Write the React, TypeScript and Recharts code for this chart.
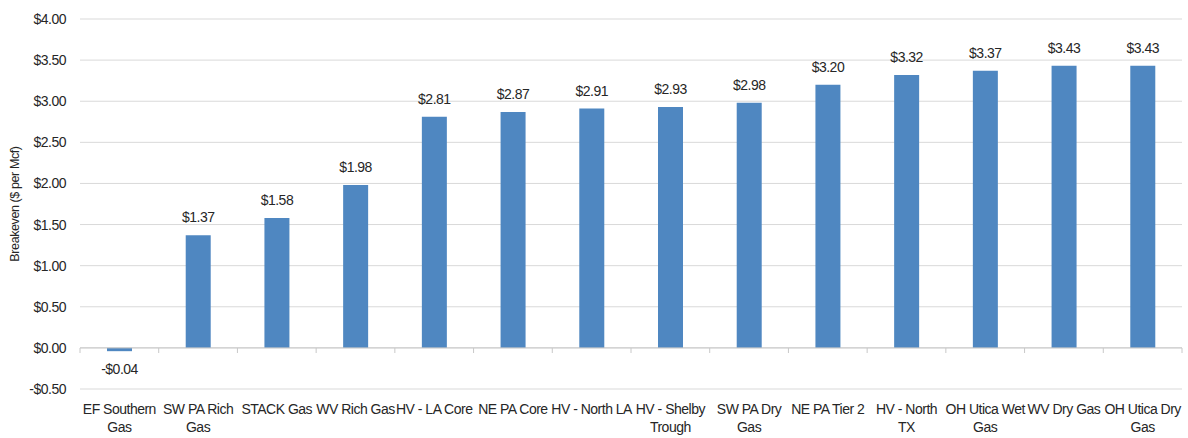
import { BarChart, Bar, CartesianGrid, XAxis, YAxis, LabelList, ReferenceLine } from "recharts";

// categories as they are wrapped in the source picture
const categories = [
  "EF Southern\nGas",
  "SW PA Rich\nGas",
  "STACK Gas",
  "WV Rich Gas",
  "HV - LA Core",
  "NE PA Core",
  "HV - North LA",
  "HV - Shelby\nTrough",
  "SW PA Dry\nGas",
  "NE PA Tier 2",
  "HV - North\nTX",
  "OH Utica Wet\nGas",
  "WV Dry Gas",
  "OH Utica Dry\nGas",
];

const breakeven = [-0.04, 1.37, 1.58, 1.98, 2.81, 2.87, 2.91, 2.93, 2.98, 3.2, 3.32, 3.37, 3.43, 3.43];

const yTicks = [-0.5, 0, 0.5, 1, 1.5, 2, 2.5, 3, 3.5, 4];

const data = categories.map((name, i) => ({ name, value: breakeven[i] }));

const FONT = "'Liberation Sans Narrow', 'Arial Narrow', 'Liberation Sans', Arial, sans-serif";
const TEXT = "#262626";
const BAR = "#4f87c1";
const FS = 14;
const LS = -0.5;

const money = (v: number) => (v < 0 ? "-$" + Math.abs(v).toFixed(2) : "$" + v.toFixed(2));

const W = 1188;
const H = 438;
const PLOT_LEFT = 80;
const PLOT_RIGHT = 6;
const BAND = (W - PLOT_LEFT - PLOT_RIGHT) / categories.length;

// category label + excel-style tick marks between categories (on the zero line)
function CatTick(props: any) {
  const { x, y, payload, index } = props;
  const lines = String(payload.value).split("\n");
  const zy = y - 49; // zero line sits 41px above the plot bottom
  return (
    <g>
      <line x1={x - BAND / 2} x2={x - BAND / 2} y1={zy} y2={zy + 5} stroke="#c8c8c8" />
      {index === categories.length - 1 && (
        <line x1={x + BAND / 2} x2={x + BAND / 2} y1={zy} y2={zy + 5} stroke="#c8c8c8" />
      )}
      <text x={x} y={y} textAnchor="middle" fill={TEXT} fontSize={FS} letterSpacing={LS} fontFamily={FONT}>
        {lines.map((l, i) => (
          <tspan key={i} x={x} dy={i === 0 ? 17 : 18}>
            {l}
          </tspan>
        ))}
      </text>
    </g>
  );
}

export default function App() {
  return (
    <div style={{ position: "fixed", left: 0, top: 0, width: W, height: H, background: "#fff" }}>
      <BarChart
        width={W}
        height={H}
        data={data}
        margin={{ top: 19, right: PLOT_RIGHT, left: 0, bottom: 0 }}
        barCategoryGap={0}
      >
        <CartesianGrid vertical={false} stroke="#d9d9d9" />
        <XAxis
          dataKey="name"
          interval={0}
          height={49}
          axisLine={false}
          tickLine={false}
          tick={<CatTick />}
        />
        <YAxis
          domain={[-0.5, 4]}
          ticks={yTicks}
          width={PLOT_LEFT}
          axisLine={false}
          tickLine={false}
          tickMargin={8}
          tickFormatter={money}
          tick={{ fill: TEXT, fontSize: FS, letterSpacing: LS, fontFamily: FONT }}
          label={{
            value: "Breakeven ($ per Mcf)",
            angle: -90,
            position: "insideLeft",
            offset: 15,
            style: { textAnchor: "middle", fill: TEXT, fontSize: 12.5, letterSpacing: -0.4, fontFamily: FONT },
          }}
        />
        <ReferenceLine y={0} stroke="#c8c8c8" />
        <Bar dataKey="value" fill={BAR} barSize={25} isAnimationActive={false}>
          <LabelList
            dataKey="value"
            position="top"
            offset={13}
            formatter={(v: any) => money(Number(v))}
            style={{ fill: TEXT, fontSize: FS, letterSpacing: LS, fontFamily: FONT }}
          />
        </Bar>
      </BarChart>
    </div>
  );
}
